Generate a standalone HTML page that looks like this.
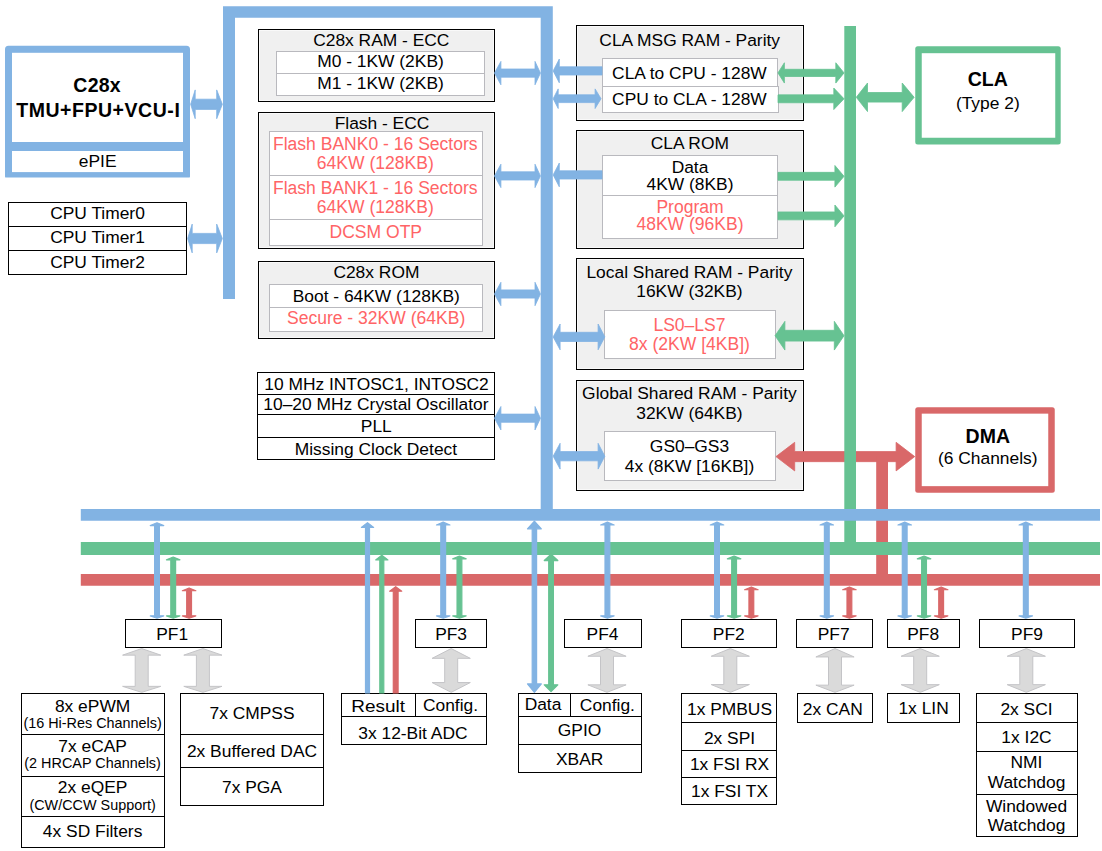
<!DOCTYPE html>
<html lang="en">
<head>
<meta charset="utf-8">
<title>Functional Block Diagram</title>
<style>
html,body{margin:0;padding:0;background:#fff;}
body{width:1102px;height:851px;overflow:hidden;}
svg{display:block;}
svg text{font-family:"Liberation Sans",Arial,Helvetica,sans-serif;text-anchor:middle;}
</style>
</head>
<body>
<svg width="1102" height="851" viewBox="0 0 1102 851">
<rect width="1102" height="851" fill="#fff"/>
<path d="M8.5,45.8 H186.5 a3.5,3.5 0 0 1 3.5,3.5 V176.4 a1.2,1.2 0 0 1 -1.2,1.2 H6.2 a1.2,1.2 0 0 1 -1.2,-1.2 V49.3 a3.5,3.5 0 0 1 3.5,-3.5 Z" fill="#82b3e3"/>
<rect x="12" y="52.8" width="171" height="89.2" fill="#fff"/>
<rect x="12" y="151" width="171" height="21.1" fill="#fff"/>
<rect x="8.5" y="202.5" width="178" height="72" fill="#fff" stroke="#000" stroke-width="1"/>
<line x1="8" y1="226.5" x2="187" y2="226.5" stroke="#000" stroke-width="1"/>
<line x1="8" y1="250.5" x2="187" y2="250.5" stroke="#000" stroke-width="1"/>
<rect x="258.5" y="29.5" width="236" height="72" fill="#f0f0f0" stroke="#000" stroke-width="1"/>
<rect x="259.5" y="30.5" width="234" height="70" fill="none" stroke="#f9f9f9" stroke-width="1"/>
<rect x="276.5" y="51.5" width="208" height="44" fill="#fff" stroke="#b9b9be" stroke-width="1"/>
<line x1="277" y1="73.5" x2="484" y2="73.5" stroke="#b9b9be" stroke-width="1"/>
<rect x="258.5" y="112.5" width="236" height="136" fill="#f0f0f0" stroke="#000" stroke-width="1"/>
<rect x="259.5" y="113.5" width="234" height="134" fill="none" stroke="#f9f9f9" stroke-width="1"/>
<rect x="269.5" y="131.5" width="213" height="114" fill="#fff" stroke="#b9b9be" stroke-width="1"/>
<line x1="270" y1="175.5" x2="482" y2="175.5" stroke="#b9b9be" stroke-width="1"/>
<line x1="270" y1="219.5" x2="482" y2="219.5" stroke="#b9b9be" stroke-width="1"/>
<rect x="258.5" y="261.5" width="236" height="77" fill="#f0f0f0" stroke="#000" stroke-width="1"/>
<rect x="259.5" y="262.5" width="234" height="75" fill="none" stroke="#f9f9f9" stroke-width="1"/>
<rect x="269.5" y="284.5" width="213" height="47" fill="#fff" stroke="#b9b9be" stroke-width="1"/>
<line x1="270" y1="307.5" x2="482" y2="307.5" stroke="#b9b9be" stroke-width="1"/>
<rect x="257.5" y="372.5" width="237" height="87" fill="#fff" stroke="#000" stroke-width="1"/>
<line x1="257" y1="394.5" x2="495" y2="394.5" stroke="#000" stroke-width="1"/>
<line x1="257" y1="414.5" x2="495" y2="414.5" stroke="#000" stroke-width="1"/>
<line x1="257" y1="437.5" x2="495" y2="437.5" stroke="#000" stroke-width="1"/>
<rect x="576.5" y="25.5" width="227" height="95" fill="#f0f0f0" stroke="#000" stroke-width="1"/>
<rect x="577.5" y="26.5" width="225" height="93" fill="none" stroke="#f9f9f9" stroke-width="1"/>
<rect x="602.5" y="58.5" width="175" height="28" fill="#fff" stroke="#b9b9be" stroke-width="1"/>
<rect x="602.5" y="86.5" width="176" height="26" fill="#fff" stroke="#b9b9be" stroke-width="1"/>
<rect x="576.5" y="130.5" width="227" height="118" fill="#f0f0f0" stroke="#000" stroke-width="1"/>
<rect x="577.5" y="131.5" width="225" height="116" fill="none" stroke="#f9f9f9" stroke-width="1"/>
<rect x="602.5" y="155.5" width="175" height="83" fill="#fff" stroke="#b9b9be" stroke-width="1"/>
<line x1="603" y1="195.5" x2="777" y2="195.5" stroke="#b9b9be" stroke-width="1"/>
<rect x="576.5" y="258.5" width="227" height="111" fill="#f0f0f0" stroke="#000" stroke-width="1"/>
<rect x="577.5" y="259.5" width="225" height="109" fill="none" stroke="#f9f9f9" stroke-width="1"/>
<rect x="604.5" y="310.5" width="171" height="48" fill="#fff" stroke="#b9b9be" stroke-width="1"/>
<rect x="576.5" y="380.5" width="227" height="110" fill="#f0f0f0" stroke="#000" stroke-width="1"/>
<rect x="577.5" y="381.5" width="225" height="108" fill="none" stroke="#f9f9f9" stroke-width="1"/>
<rect x="604.5" y="431.5" width="171" height="49" fill="#fff" stroke="#b9b9be" stroke-width="1"/>
<rect x="125.5" y="619.5" width="96" height="28" fill="#fff" stroke="#000" stroke-width="1"/>
<rect x="415.5" y="619.5" width="71" height="28" fill="#fff" stroke="#000" stroke-width="1"/>
<rect x="564.5" y="619.5" width="77" height="28" fill="#fff" stroke="#000" stroke-width="1"/>
<rect x="681.5" y="619.5" width="95" height="28" fill="#fff" stroke="#000" stroke-width="1"/>
<rect x="796.5" y="619.5" width="76" height="28" fill="#fff" stroke="#000" stroke-width="1"/>
<rect x="887.5" y="619.5" width="72" height="28" fill="#fff" stroke="#000" stroke-width="1"/>
<rect x="979.5" y="619.5" width="95" height="28" fill="#fff" stroke="#000" stroke-width="1"/>
<rect x="21.5" y="693.5" width="143" height="154" fill="#fff" stroke="#000" stroke-width="1"/>
<line x1="21" y1="734.5" x2="165" y2="734.5" stroke="#000" stroke-width="1"/>
<line x1="21" y1="776.5" x2="165" y2="776.5" stroke="#000" stroke-width="1"/>
<line x1="21" y1="816.5" x2="165" y2="816.5" stroke="#000" stroke-width="1"/>
<rect x="180.5" y="693.5" width="143" height="112" fill="#fff" stroke="#000" stroke-width="1"/>
<line x1="180" y1="734.5" x2="324" y2="734.5" stroke="#000" stroke-width="1"/>
<line x1="180" y1="767.5" x2="324" y2="767.5" stroke="#000" stroke-width="1"/>
<rect x="341.5" y="693.5" width="145" height="51" fill="#fff" stroke="#000" stroke-width="1"/>
<line x1="341" y1="716.5" x2="487" y2="716.5" stroke="#000" stroke-width="1"/>
<line x1="415.5" y1="693" x2="415.5" y2="717" stroke="#000" stroke-width="1"/>
<rect x="518.5" y="693.5" width="123" height="79" fill="#fff" stroke="#000" stroke-width="1"/>
<line x1="518" y1="716.5" x2="642" y2="716.5" stroke="#000" stroke-width="1"/>
<line x1="518" y1="744.5" x2="642" y2="744.5" stroke="#000" stroke-width="1"/>
<line x1="570.5" y1="693" x2="570.5" y2="717" stroke="#000" stroke-width="1"/>
<rect x="681.5" y="693.5" width="95" height="111" fill="#fff" stroke="#000" stroke-width="1"/>
<line x1="681" y1="722.5" x2="777" y2="722.5" stroke="#000" stroke-width="1"/>
<line x1="681" y1="750.5" x2="777" y2="750.5" stroke="#000" stroke-width="1"/>
<line x1="681" y1="777.5" x2="777" y2="777.5" stroke="#000" stroke-width="1"/>
<rect x="797.5" y="693.5" width="75" height="29" fill="#fff" stroke="#000" stroke-width="1"/>
<rect x="887.5" y="693.5" width="72" height="29" fill="#fff" stroke="#000" stroke-width="1"/>
<rect x="976.5" y="693.5" width="101" height="143" fill="#fff" stroke="#000" stroke-width="1"/>
<line x1="976" y1="722.5" x2="1078" y2="722.5" stroke="#000" stroke-width="1"/>
<line x1="976" y1="751.5" x2="1078" y2="751.5" stroke="#000" stroke-width="1"/>
<line x1="976" y1="794.5" x2="1078" y2="794.5" stroke="#000" stroke-width="1"/>
<polygon points="141.7,648.55 160.8,655.15 148.2,655.15 148.2,686.35 160.8,686.35 141.7,692.35 122.6,686.35 135.2,686.35 135.2,655.15 122.6,655.15" fill="#dadada" stroke="#c4c4c7" stroke-width="1" stroke-linejoin="miter"/>
<polygon points="202.9,648.55 222,655.15 209.4,655.15 209.4,686.35 222,686.35 202.9,692.35 183.8,686.35 196.4,686.35 196.4,655.15 183.8,655.15" fill="#dadada" stroke="#c4c4c7" stroke-width="1" stroke-linejoin="miter"/>
<polygon points="451.2,648.55 470.3,658.35 457.7,658.35 457.7,682.55 470.3,682.55 451.2,692.35 432.1,682.55 444.7,682.55 444.7,658.35 432.1,658.35" fill="#dadada" stroke="#c4c4c7" stroke-width="1" stroke-linejoin="miter"/>
<polygon points="607,648.55 626.1,656.25 613.5,656.25 613.5,684.85 626.1,684.85 607,692.35 587.9,684.85 600.5,684.85 600.5,656.25 587.9,656.25" fill="#dadada" stroke="#c4c4c7" stroke-width="1" stroke-linejoin="miter"/>
<polygon points="730.3,648.55 749.4,656.25 736.8,656.25 736.8,684.55 749.4,684.55 730.3,692.35 711.2,684.55 723.8,684.55 723.8,656.25 711.2,656.25" fill="#dadada" stroke="#c4c4c7" stroke-width="1" stroke-linejoin="miter"/>
<polygon points="835,648.55 854.1,656.95 841.5,656.95 841.5,685.15 854.1,685.15 835,692.35 815.9,685.15 828.5,685.15 828.5,656.95 815.9,656.95" fill="#dadada" stroke="#c4c4c7" stroke-width="1" stroke-linejoin="miter"/>
<polygon points="920.2,648.55 939.3,656.25 926.7,656.25 926.7,684.65 939.3,684.65 920.2,692.35 901.1,684.65 913.7,684.65 913.7,656.25 901.1,656.25" fill="#dadada" stroke="#c4c4c7" stroke-width="1" stroke-linejoin="miter"/>
<polygon points="1026.3,648.55 1045.4,656.25 1032.8,656.25 1032.8,684.65 1045.4,684.65 1026.3,692.35 1007.2,684.65 1019.8,684.65 1019.8,656.25 1007.2,656.25" fill="#dadada" stroke="#c4c4c7" stroke-width="1" stroke-linejoin="miter"/>
<polygon points="775.95,456.6 794.7,442.3 794.7,451.55 896.1,451.55 896.1,442.3 914.75,456.6 896.1,470.9 896.1,461.65 794.7,461.65 794.7,470.9" fill="#d96869" stroke="#d96869" stroke-width="0.8" stroke-linejoin="miter"/>
<polygon points="876.2,456 888,456 888,574 1100,574 1100,585.8 80.8,585.8 80.8,574 876.2,574" fill="#d96869"/>
<polygon points="844.3,26 856,26 856,542 1100,542 1100,555 80.8,555 80.8,542 844.3,542" fill="#66c292"/>
<polygon points="777.95,72.9 784.4,62.75 784.4,69.3 835.8,69.3 835.8,62.75 844.05,72.9 835.8,83.05 835.8,76.5 784.4,76.5 784.4,83.05" fill="#66c292" stroke="#66c292" stroke-width="0.8" stroke-linejoin="miter"/>
<polygon points="778,94.85 833.8,94.85 833.8,88.05 844.05,98.8 833.8,109.55 833.8,102.75 778,102.75" fill="#66c292" stroke="#66c292" stroke-width="0.8" stroke-linejoin="miter"/>
<polygon points="778,172.35 834.9,172.35 834.9,165.5 844.05,176.3 834.9,187.1 834.9,180.25 778,180.25" fill="#66c292" stroke="#66c292" stroke-width="0.8" stroke-linejoin="miter"/>
<polygon points="778,211.95 834.9,211.95 834.9,205 844.05,215.9 834.9,226.8 834.9,219.85 778,219.85" fill="#66c292" stroke="#66c292" stroke-width="0.8" stroke-linejoin="miter"/>
<polygon points="775.05,335.7 784.9,321.35 784.9,330.3 834.3,330.3 834.3,321.35 844.05,335.7 834.3,350.05 834.3,341.1 784.9,341.1 784.9,350.05" fill="#66c292" stroke="#66c292" stroke-width="0.8" stroke-linejoin="miter"/>
<polygon points="856.25,97.3 867.5,83 867.5,92.5 902.2,92.5 902.2,83 914.15,97.3 902.2,111.6 902.2,102.1 867.5,102.1 867.5,111.6" fill="#66c292" stroke="#66c292" stroke-width="0.8" stroke-linejoin="miter"/>
<polygon points="223,6.2 552.8,6.2 552.8,509 1100,509 1100,520.8 80.8,520.8 80.8,509 540.7,509 540.7,17.8 235,17.8 235,299 223,299" fill="#82b3e3"/>
<polygon points="190.65,104.3 195.2,89.9 195.2,99.2 216.7,99.2 216.7,89.9 222.35,104.3 216.7,118.7 216.7,109.4 195.2,109.4 195.2,118.7" fill="#82b3e3" stroke="#82b3e3" stroke-width="0.8" stroke-linejoin="miter"/>
<polygon points="187.65,238.5 192.2,224.1 192.2,233.4 216.7,233.4 216.7,224.1 222.35,238.5 216.7,252.9 216.7,243.6 192.2,243.6 192.2,252.9" fill="#82b3e3" stroke="#82b3e3" stroke-width="0.8" stroke-linejoin="miter"/>
<polygon points="494.45,73.1 500.9,61.4 500.9,69 535,69 535,61.4 540.45,73.1 535,84.8 535,77.2 500.9,77.2 500.9,84.8" fill="#82b3e3" stroke="#82b3e3" stroke-width="0.8" stroke-linejoin="miter"/>
<polygon points="494.45,175.9 500.9,164.2 500.9,171.8 535,171.8 535,164.2 540.45,175.9 535,187.6 535,180 500.9,180 500.9,187.6" fill="#82b3e3" stroke="#82b3e3" stroke-width="0.8" stroke-linejoin="miter"/>
<polygon points="494.45,294 500.9,282.3 500.9,289.9 535,289.9 535,282.3 540.45,294 535,305.7 535,298.1 500.9,298.1 500.9,305.7" fill="#82b3e3" stroke="#82b3e3" stroke-width="0.8" stroke-linejoin="miter"/>
<polygon points="494.45,418.2 500.9,406.5 500.9,414.1 535,414.1 535,406.5 540.45,418.2 535,429.9 535,422.3 500.9,422.3 500.9,429.9" fill="#82b3e3" stroke="#82b3e3" stroke-width="0.8" stroke-linejoin="miter"/>
<polygon points="553.15,70.9 559.3,59 559.3,66.8 602,66.8 602,75 559.3,75 559.3,82.8" fill="#82b3e3" stroke="#82b3e3" stroke-width="0.8" stroke-linejoin="miter"/>
<polygon points="553.15,98.7 558.2,88.9 558.2,94.8 595.1,94.8 595.1,88.9 601.05,98.7 595.1,108.5 595.1,102.6 558.2,102.6 558.2,108.5" fill="#82b3e3" stroke="#82b3e3" stroke-width="0.8" stroke-linejoin="miter"/>
<polygon points="553.15,174.9 559.3,163 559.3,170.8 602,170.8 602,179 559.3,179 559.3,186.8" fill="#82b3e3" stroke="#82b3e3" stroke-width="0.8" stroke-linejoin="miter"/>
<polygon points="553.15,336.9 560.1,324 560.1,332.3 598.1,332.3 598.1,324 604.85,336.9 598.1,349.8 598.1,341.5 560.1,341.5 560.1,349.8" fill="#82b3e3" stroke="#82b3e3" stroke-width="0.8" stroke-linejoin="miter"/>
<polygon points="553.15,456.2 560.1,443.3 560.1,451.6 598.1,451.6 598.1,443.3 604.85,456.2 598.1,469.1 598.1,460.8 560.1,460.8 560.1,469.1" fill="#82b3e3" stroke="#82b3e3" stroke-width="0.8" stroke-linejoin="miter"/>
<polygon points="189.1,587.96 195.85,590.76 191.5,590.76 191.5,615.84 195.85,615.84 189.1,618.24 182.35,615.84 186.7,615.84 186.7,590.76 182.35,590.76" fill="#d96869" stroke="#d96869" stroke-width="1.2" stroke-linejoin="round"/>
<polygon points="751.35,586.96 758.1,589.76 753.75,589.76 753.75,615.84 758.1,615.84 751.35,618.24 744.6,615.84 748.95,615.84 748.95,589.76 744.6,589.76" fill="#d96869" stroke="#d96869" stroke-width="1.2" stroke-linejoin="round"/>
<polygon points="849.4,586.96 856.15,589.76 851.8,589.76 851.8,615.84 856.15,615.84 849.4,618.24 842.65,615.84 847,615.84 847,589.76 842.65,589.76" fill="#d96869" stroke="#d96869" stroke-width="1.2" stroke-linejoin="round"/>
<polygon points="941.15,586.96 947.9,589.76 943.55,589.76 943.55,615.84 947.9,615.84 941.15,618.24 934.4,615.84 938.75,615.84 938.75,589.76 934.4,589.76" fill="#d96869" stroke="#d96869" stroke-width="1.2" stroke-linejoin="round"/>
<polygon points="395.7,586.66 401.75,591.26 398.1,591.26 398.1,693 393.3,693 393.3,591.26 389.65,591.26" fill="#d96869" stroke="#d96869" stroke-width="1.2" stroke-linejoin="round"/>
<polygon points="173.2,557.06 179.95,559.86 175.6,559.86 175.6,615.84 179.95,615.84 173.2,618.24 166.45,615.84 170.8,615.84 170.8,559.86 166.45,559.86" fill="#66c292" stroke="#66c292" stroke-width="1.2" stroke-linejoin="round"/>
<polygon points="459.45,556.06 466.2,558.86 461.85,558.86 461.85,615.84 466.2,615.84 459.45,618.24 452.7,615.84 457.05,615.84 457.05,558.86 452.7,558.86" fill="#66c292" stroke="#66c292" stroke-width="1.2" stroke-linejoin="round"/>
<polygon points="734.1,556.06 740.85,558.86 736.5,558.86 736.5,615.84 740.85,615.84 734.1,618.24 727.35,615.84 731.7,615.84 731.7,558.86 727.35,558.86" fill="#66c292" stroke="#66c292" stroke-width="1.2" stroke-linejoin="round"/>
<polygon points="924.05,556.06 930.8,558.86 926.45,558.86 926.45,615.84 930.8,615.84 924.05,618.24 917.3,615.84 921.65,615.84 921.65,558.86 917.3,558.86" fill="#66c292" stroke="#66c292" stroke-width="1.2" stroke-linejoin="round"/>
<polygon points="381.8,555.26 387.95,559.86 383.8,559.86 383.8,693 379.8,693 379.8,559.86 375.65,559.86" fill="#66c292" stroke="#66c292" stroke-width="1.2" stroke-linejoin="round"/>
<polygon points="551.05,554.26 557.85,560.56 553.4,560.56 553.4,684.74 557.85,684.74 551.05,691.64 544.25,684.74 548.7,684.74 548.7,560.56 544.25,560.56" fill="#66c292" stroke="#66c292" stroke-width="1.2" stroke-linejoin="round"/>
<polygon points="157,522.76 163.75,525.56 159.4,525.56 159.4,615.84 163.75,615.84 157,618.24 150.25,615.84 154.6,615.84 154.6,525.56 150.25,525.56" fill="#82b3e3" stroke="#82b3e3" stroke-width="1.2" stroke-linejoin="round"/>
<polygon points="443.2,522.16 449.95,524.96 445.6,524.96 445.6,615.84 449.95,615.84 443.2,618.24 436.45,615.84 440.8,615.84 440.8,524.96 436.45,524.96" fill="#82b3e3" stroke="#82b3e3" stroke-width="1.2" stroke-linejoin="round"/>
<polygon points="607.4,522.16 614.15,524.96 609.8,524.96 609.8,615.84 614.15,615.84 607.4,618.24 600.65,615.84 605,615.84 605,524.96 600.65,524.96" fill="#82b3e3" stroke="#82b3e3" stroke-width="1.2" stroke-linejoin="round"/>
<polygon points="717,522.16 723.75,524.96 719.4,524.96 719.4,615.84 723.75,615.84 717,618.24 710.25,615.84 714.6,615.84 714.6,524.96 710.25,524.96" fill="#82b3e3" stroke="#82b3e3" stroke-width="1.2" stroke-linejoin="round"/>
<polygon points="826.8,522.16 833.55,524.96 829.2,524.96 829.2,615.84 833.55,615.84 826.8,618.24 820.05,615.84 824.4,615.84 824.4,524.96 820.05,524.96" fill="#82b3e3" stroke="#82b3e3" stroke-width="1.2" stroke-linejoin="round"/>
<polygon points="904.7,522.16 911.45,524.96 907.1,524.96 907.1,615.84 911.45,615.84 904.7,618.24 897.95,615.84 902.3,615.84 902.3,524.96 897.95,524.96" fill="#82b3e3" stroke="#82b3e3" stroke-width="1.2" stroke-linejoin="round"/>
<polygon points="1025.8,522.16 1032.55,524.96 1028.2,524.96 1028.2,615.84 1032.55,615.84 1025.8,618.24 1019.05,615.84 1023.4,615.84 1023.4,524.96 1019.05,524.96" fill="#82b3e3" stroke="#82b3e3" stroke-width="1.2" stroke-linejoin="round"/>
<polygon points="367.5,522.66 373.65,527.36 369.5,527.36 369.5,693 365.5,693 365.5,527.36 361.35,527.36" fill="#82b3e3" stroke="#82b3e3" stroke-width="1.2" stroke-linejoin="round"/>
<polygon points="534.4,521.26 541.35,528.86 536.6,528.86 536.6,683.94 541.35,683.94 534.4,692.24 527.45,683.94 532.2,683.94 532.2,528.86 527.45,528.86" fill="#82b3e3" stroke="#82b3e3" stroke-width="1.2" stroke-linejoin="round"/>
<rect x="915.25" y="46.35" width="145.45" height="98.25" fill="#66c292" rx="2.5"/>
<rect x="921.75" y="53.2" width="133.5" height="84.55" fill="#fff"/>
<rect x="915.25" y="407.15" width="139.5" height="85.5" fill="#d96869" rx="2.5"/>
<rect x="921.75" y="413.65" width="126.5" height="72.5" fill="#fff"/>
<text x="97" y="92.1" font-size="19.5" font-weight="bold" textLength="47.4" lengthAdjust="spacing">C28x</text>
<text x="98" y="116.5" font-size="19.5" font-weight="bold" textLength="163.6" lengthAdjust="spacing">TMU+FPU+VCU-I</text>
<text x="97.7" y="166.5" font-size="17.4">ePIE</text>
<text x="97.5" y="219.3" font-size="17.4">CPU Timer0</text>
<text x="97.5" y="243" font-size="17.4">CPU Timer1</text>
<text x="97.5" y="267.6" font-size="17.4">CPU Timer2</text>
<text x="381.3" y="45.8" font-size="17.4">C28x RAM - ECC</text>
<text x="380.5" y="67" font-size="17.4">M0 - 1KW (2KB)</text>
<text x="380.5" y="88.8" font-size="17.4">M1 - 1KW (2KB)</text>
<text x="382" y="129" font-size="17.4">Flash - ECC</text>
<text x="375.3" y="149.5" font-size="17.55" fill="#ff6466">Flash BANK0 - 16 Sectors</text>
<text x="375.3" y="169" font-size="17.55" fill="#ff6466">64KW (128KB)</text>
<text x="375.3" y="193.9" font-size="17.55" fill="#ff6466">Flash BANK1 - 16 Sectors</text>
<text x="375.3" y="212.5" font-size="17.55" fill="#ff6466">64KW (128KB)</text>
<text x="375.8" y="237.5" font-size="17.55" fill="#ff6466">DCSM OTP</text>
<text x="376.4" y="277.5" font-size="17.4">C28x ROM</text>
<text x="376.3" y="301.8" font-size="17.4">Boot - 64KW (128KB)</text>
<text x="376.1" y="323.8" font-size="17.55" fill="#ff6466">Secure - 32KW (64KB)</text>
<text x="376.5" y="389.5" font-size="17.4">10 MHz INTOSC1, INTOSC2</text>
<text x="375.9" y="409.5" font-size="17.4">10–20 MHz Crystal Oscillator</text>
<text x="376.3" y="432" font-size="17.4">PLL</text>
<text x="375.9" y="454.5" font-size="17.4">Missing Clock Detect</text>
<text x="689.7" y="45.8" font-size="17.4">CLA MSG RAM - Parity</text>
<text x="689.4" y="79" font-size="17.4">CLA to CPU - 128W</text>
<text x="689.4" y="105.2" font-size="17.4">CPU to CLA - 128W</text>
<text x="689.8" y="148.8" font-size="17.4">CLA ROM</text>
<text x="690" y="172.5" font-size="17.4">Data</text>
<text x="690" y="189.7" font-size="17.4">4KW (8KB)</text>
<text x="690" y="212.5" font-size="17.55" fill="#ff6466">Program</text>
<text x="690" y="229.5" font-size="17.55" fill="#ff6466">48KW (96KB)</text>
<text x="689.4" y="277.5" font-size="17.4">Local Shared RAM - Parity</text>
<text x="689.4" y="296.8" font-size="17.4">16KW (32KB)</text>
<text x="689.5" y="330.8" font-size="17.55" fill="#ff6466">LS0–LS7</text>
<text x="689.5" y="350" font-size="17.55" fill="#ff6466">8x (2KW [4KB])</text>
<text x="689.4" y="398.8" font-size="17.4">Global Shared RAM - Parity</text>
<text x="689.4" y="418.6" font-size="17.4">32KW (64KB)</text>
<text x="689.5" y="452.1" font-size="17.4">GS0–GS3</text>
<text x="689.5" y="471.6" font-size="17.4">4x (8KW [16KB])</text>
<text x="987.8" y="85.8" font-size="19.5" font-weight="bold" textLength="40.2" lengthAdjust="spacingAndGlyphs">CLA</text>
<text x="987.8" y="108.8" font-size="17.4">(Type 2)</text>
<text x="987.8" y="442.8" font-size="19.5" font-weight="bold">DMA</text>
<text x="987.8" y="463.5" font-size="17.4">(6 Channels)</text>
<text x="172.2" y="639.8" font-size="17.4">PF1</text>
<text x="451.1" y="639.8" font-size="17.4">PF3</text>
<text x="602.5" y="639.8" font-size="17.4">PF4</text>
<text x="728.8" y="639.8" font-size="17.4">PF2</text>
<text x="833.7" y="639.8" font-size="17.4">PF7</text>
<text x="923.2" y="639.8" font-size="17.4">PF8</text>
<text x="1027" y="639.8" font-size="17.4">PF9</text>
<text x="92.6" y="711.5" font-size="17.4">8x ePWM</text>
<text x="92.6" y="727.9" font-size="14.4">(16 Hi-Res Channels)</text>
<text x="92.6" y="752" font-size="17.4">7x eCAP</text>
<text x="92.6" y="768" font-size="14.4">(2 HRCAP Channels)</text>
<text x="92.6" y="793.3" font-size="17.4">2x eQEP</text>
<text x="92.6" y="809.6" font-size="14.4">(CW/CCW Support)</text>
<text x="92.6" y="836.5" font-size="17.4">4x SD Filters</text>
<text x="252" y="718.6" font-size="17.4">7x CMPSS</text>
<text x="252" y="757.2" font-size="17.4">2x Buffered DAC</text>
<text x="252" y="792.7" font-size="17.4">7x PGA</text>
<text x="378.1" y="711.8" font-size="17.4" textLength="53.7" lengthAdjust="spacingAndGlyphs">Result</text>
<text x="450.5" y="711" font-size="17.4">Config.</text>
<text x="412.9" y="738.7" font-size="17.4">3x 12-Bit ADC</text>
<text x="543" y="709.6" font-size="17.4">Data</text>
<text x="607.4" y="711" font-size="17.4">Config.</text>
<text x="579.6" y="735.6" font-size="17.4">GPIO</text>
<text x="579.7" y="765.2" font-size="17.4">XBAR</text>
<text x="729.5" y="715.4" font-size="17.4">1x PMBUS</text>
<text x="729.5" y="743.8" font-size="17.4">2x SPI</text>
<text x="729.5" y="769.8" font-size="17.4">1x FSI RX</text>
<text x="729.5" y="796.5" font-size="17.4">1x FSI TX</text>
<text x="832.8" y="715.4" font-size="17.4">2x CAN</text>
<text x="923.6" y="713.6" font-size="17.4">1x LIN</text>
<text x="1026.5" y="715.4" font-size="17.4">2x SCI</text>
<text x="1026.5" y="743" font-size="17.4">1x I2C</text>
<text x="1026.5" y="768.4" font-size="17.4">NMI</text>
<text x="1026.5" y="787.5" font-size="17.4">Watchdog</text>
<text x="1026.5" y="811.5" font-size="17.4">Windowed</text>
<text x="1026.5" y="830.9" font-size="17.4">Watchdog</text>
</svg>
</body>
</html>
